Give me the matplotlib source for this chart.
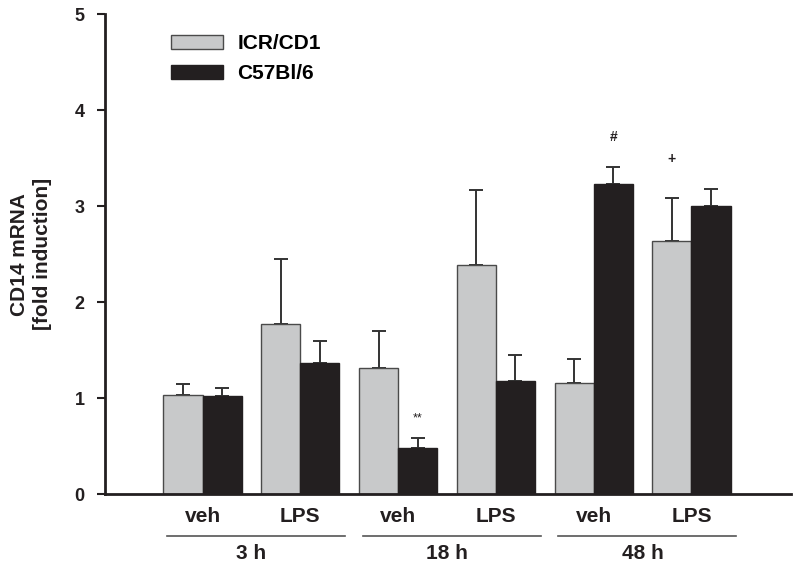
import numpy as np
import matplotlib
matplotlib.use("Agg")
import matplotlib.pyplot as plt
import matplotlib.transforms as mtransforms

plt.rcParams['font.family'] = ['Liberation Sans', 'DejaVu Sans']
plt.rcParams['font.weight'] = 'bold'

treatments = ["veh", "LPS", "veh", "LPS", "veh", "LPS"]
timepoints = ["3 h", "18 h", "48 h"]
strains = ["ICR/CD1", "C57Bl/6"]

icr_mean = [1.03, 1.77, 1.31, 2.39, 1.16, 2.64]
icr_sem = [0.115, 0.675, 0.385, 0.774, 0.25, 0.447]
c57_mean = [1.02, 1.37, 0.48, 1.18, 3.23, 3.00]
c57_sem = [0.09, 0.227, 0.103, 0.268, 0.176, 0.18]

# significance marks: (strain index, bar index, symbol)
marks = [(1, 2, "**"), (1, 4, "#"), (0, 5, "+")]

ink = "#231f20"
gray = "#c8c9ca"

fig = plt.figure(figsize=(8, 5.68), dpi=100)
ax = fig.add_axes([0.131, 0.130, 0.858, 0.845])

x = np.arange(len(treatments))
w = 0.4
ax.bar(x - w / 2, icr_mean, w, color=gray, edgecolor="#4a4a4a", linewidth=1, label=strains[0], zorder=2)
ax.bar(x + w / 2, c57_mean, w, color=ink, edgecolor=ink, linewidth=1, label=strains[1], zorder=2)

zeros = np.zeros(len(x))
ax.errorbar(x - w / 2, icr_mean, yerr=[zeros, icr_sem], fmt="none", ecolor="#333333",
            elinewidth=1.4, capsize=5, capthick=1.4, zorder=1)
ax.errorbar(x + w / 2, c57_mean, yerr=[zeros, c57_sem], fmt="none", ecolor="#333333",
            elinewidth=1.4, capsize=5, capthick=1.4, zorder=1)

means = [icr_mean, c57_mean]
sems = [icr_sem, c57_sem]
offsets = {"**": 20, "#": 30, "+": 39}
for s, i, sym in marks:
    xs = x[i] + (w / 2 if s == 1 else -w / 2)
    ax.annotate(sym, (xs, means[s][i] + sems[s][i]), xytext=(0, offsets[sym]),
                textcoords="offset pixels", ha="center", va="center",
                fontsize=9 if sym == "**" else 10,
                fontweight="normal" if sym == "**" else "bold", color=ink)

ax.set_xlim(-1.0, 6.02)
ax.set_ylim(0, 5)
ax.set_yticks(range(0, 6))
ax.tick_params(axis="y", direction="out", length=6, width=1.5, pad=8.5, labelsize=13, colors=ink)
ax.set_xticks(x, treatments)
ax.tick_params(axis="x", length=0, pad=9, labelsize=15, colors=ink)
for sp in ["top", "right"]:
    ax.spines[sp].set_visible(False)
for sp in ["left", "bottom"]:
    ax.spines[sp].set_linewidth(2)
    ax.spines[sp].set_color(ink)

ax.set_ylabel("CD14 mRNA\n[fold induction]", fontsize=15, fontweight="bold",
              color=ink, linespacing=1.3, labelpad=16)

trans = mtransforms.blended_transform_factory(ax.transData, ax.transAxes)
for k, lab in enumerate(timepoints):
    c = 2 * k + 0.5
    ax.plot([c - 0.86, c + 0.96], [-0.0865, -0.0865], transform=trans, color="#555555",
            lw=1.2, clip_on=False)
    ax.text(c, -0.123, lab, transform=trans, ha="center", va="center", fontsize=15,
            fontweight="bold", color=ink)

ax.legend(loc="upper left", bbox_to_anchor=(0.096, 0.958), frameon=False, fontsize=15,
          handlelength=2.5, handleheight=0.69, handletextpad=0.7, labelspacing=0.52,
          borderpad=0, borderaxespad=0)

fig.savefig("out.png", dpi=100)
